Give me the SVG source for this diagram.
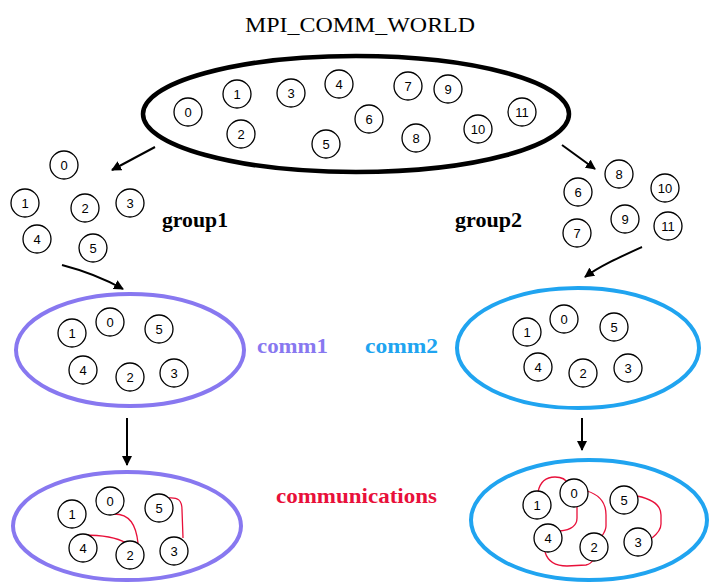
<svg xmlns="http://www.w3.org/2000/svg" width="709" height="583" viewBox="0 0 709 583">
<defs>
<marker id="ah" viewBox="0 0 10 10" refX="9" refY="5" markerWidth="5" markerHeight="5" orient="auto" markerUnits="strokeWidth">
<path d="M0,0 L10,5 L0,10 z" fill="#000"/>
</marker>
</defs>
<style>
.n circle{fill:#fff;stroke:#000;stroke-width:1.3}
.n text{font-family:"Liberation Sans",Arial,sans-serif;font-size:13px;text-anchor:middle;dominant-baseline:central;fill:#000}
.lbl{font-family:"Liberation Serif","Times New Roman",serif;font-weight:bold}
.arr{fill:none;stroke:#000;stroke-width:2;marker-end:url(#ah)}
.red{fill:none;stroke:#e8103a;stroke-width:1.3}
</style>
<rect width="709" height="583" fill="#fff"/>

<text x="360" y="32" text-anchor="middle" font-family="'Liberation Serif','Times New Roman',serif" font-size="22" textLength="230" lengthAdjust="spacingAndGlyphs">MPI_COMM_WORLD</text>

<g id="world">
<ellipse cx="356" cy="114" rx="213" ry="58" fill="none" stroke="#000" stroke-width="4.5"/>
<g class="n">
<g><circle cx="188" cy="112" r="14"/><text x="188" y="112">0</text></g>
<g><circle cx="237" cy="94" r="14"/><text x="237" y="94">1</text></g>
<g><circle cx="241" cy="134" r="14"/><text x="241" y="134">2</text></g>
<g><circle cx="291" cy="93" r="14"/><text x="291" y="93">3</text></g>
<g><circle cx="339" cy="84" r="14"/><text x="339" y="84">4</text></g>
<g><circle cx="326" cy="144" r="14"/><text x="326" y="144">5</text></g>
<g><circle cx="369" cy="119" r="14"/><text x="369" y="119">6</text></g>
<g><circle cx="408" cy="86" r="14"/><text x="408" y="86">7</text></g>
<g><circle cx="416" cy="138" r="14"/><text x="416" y="138">8</text></g>
<g><circle cx="448" cy="89" r="14"/><text x="448" y="89">9</text></g>
<g><circle cx="478" cy="129" r="14"/><text x="478" y="129">10</text></g>
<g><circle cx="522" cy="112" r="14"/><text x="522" y="112">11</text></g>
</g>
</g>

<g id="group1">
<g class="n">
<g><circle cx="64" cy="165" r="14"/><text x="64" y="165">0</text></g>
<g><circle cx="25" cy="203" r="14"/><text x="25" y="203">1</text></g>
<g><circle cx="85" cy="208" r="14"/><text x="85" y="208">2</text></g>
<g><circle cx="130" cy="203" r="14"/><text x="130" y="203">3</text></g>
<g><circle cx="37" cy="239" r="14"/><text x="37" y="239">4</text></g>
<g><circle cx="93" cy="248" r="14"/><text x="93" y="248">5</text></g>
</g>
<text class="lbl" x="162" y="227" font-size="20" textLength="66" lengthAdjust="spacingAndGlyphs">group1</text>
</g>

<g id="group2">
<g class="n">
<g><circle cx="578" cy="192" r="14"/><text x="578" y="192">6</text></g>
<g><circle cx="577" cy="233" r="14"/><text x="577" y="233">7</text></g>
<g><circle cx="619" cy="174" r="14"/><text x="619" y="174">8</text></g>
<g><circle cx="625" cy="219" r="14"/><text x="625" y="219">9</text></g>
<g><circle cx="665" cy="188" r="14"/><text x="665" y="188">10</text></g>
<g><circle cx="668" cy="226" r="14"/><text x="668" y="226">11</text></g>
</g>
<text class="lbl" x="455" y="227" font-size="20" textLength="67" lengthAdjust="spacingAndGlyphs">group2</text>
</g>

<g id="comm1">
<ellipse cx="130" cy="350" rx="114" ry="56" fill="none" stroke="#8878f0" stroke-width="4"/>
<g class="n">
<g><circle cx="110" cy="322" r="14"/><text x="110" y="322">0</text></g>
<g><circle cx="72" cy="333" r="14"/><text x="72" y="333">1</text></g>
<g><circle cx="130" cy="377" r="14"/><text x="130" y="377">2</text></g>
<g><circle cx="174" cy="373" r="14"/><text x="174" y="373">3</text></g>
<g><circle cx="83" cy="370" r="14"/><text x="83" y="370">4</text></g>
<g><circle cx="159" cy="329" r="14"/><text x="159" y="329">5</text></g>
</g>
<text class="lbl" x="257" y="353" font-size="21" fill="#8878f0" textLength="71" lengthAdjust="spacingAndGlyphs">comm1</text>
</g>

<g id="comm2">
<ellipse cx="578" cy="348" rx="121" ry="60" fill="none" stroke="#20a4f0" stroke-width="4"/>
<g class="n">
<g><circle cx="564" cy="319" r="14"/><text x="564" y="319">0</text></g>
<g><circle cx="527" cy="332" r="14"/><text x="527" y="332">1</text></g>
<g><circle cx="583" cy="373" r="14"/><text x="583" y="373">2</text></g>
<g><circle cx="628" cy="368" r="14"/><text x="628" y="368">3</text></g>
<g><circle cx="538" cy="367" r="14"/><text x="538" y="367">4</text></g>
<g><circle cx="614" cy="327" r="14"/><text x="614" y="327">5</text></g>
</g>
<text class="lbl" x="365" y="353" font-size="21" fill="#20a4f0" textLength="73" lengthAdjust="spacingAndGlyphs">comm2</text>
</g>

<text class="lbl" x="276" y="503" font-size="21" fill="#e8103a" textLength="161" lengthAdjust="spacingAndGlyphs">communications</text>

<g id="comms1">
<ellipse cx="127" cy="526" rx="114" ry="54" fill="none" stroke="#8878f0" stroke-width="4"/>
<path class="red" d="M168,498 C178,497 182,500 182,510 L183,538"/>
<path class="red" d="M114,514 C130,514 136,525 138,543"/>
<path class="red" d="M83,535 C102,535 116,537 126,543"/>
<g class="n">
<g><circle cx="110" cy="501" r="14"/><text x="110" y="501">0</text></g>
<g><circle cx="72" cy="514" r="14"/><text x="72" y="514">1</text></g>
<g><circle cx="130" cy="555" r="14"/><text x="130" y="555">2</text></g>
<g><circle cx="174" cy="551" r="14"/><text x="174" y="551">3</text></g>
<g><circle cx="83" cy="548" r="14"/><text x="83" y="548">4</text></g>
<g><circle cx="159" cy="508" r="14"/><text x="159" y="508">5</text></g>
</g>
</g>

<g id="comms2">
<ellipse cx="589" cy="520" rx="118" ry="60" fill="none" stroke="#20a4f0" stroke-width="4"/>
<path class="red" d="M538,492 C540,482 546,477 555,477 C562,477 566,479 568,484"/>
<path class="red" d="M577,506 L577,518 C577,527 570,530 560,531"/>
<path class="red" d="M587,491 C600,495 606,503 606,515 L606,526 C606,530 604,533 602,536"/>
<path class="red" d="M545,552 C548,562 555,566 567,566 L586,565 C590,564 592,562 593,560"/>
<path class="red" d="M637,496 C652,499 661,505 661,515 L661,524 C661,530 657,534 652,538"/>
<g class="n">
<g><circle cx="574" cy="493" r="14"/><text x="574" y="493">0</text></g>
<g><circle cx="537" cy="505" r="14"/><text x="537" y="505">1</text></g>
<g><circle cx="594" cy="547" r="14"/><text x="594" y="547">2</text></g>
<g><circle cx="638" cy="542" r="14"/><text x="638" y="542">3</text></g>
<g><circle cx="548" cy="538" r="14"/><text x="548" y="538">4</text></g>
<g><circle cx="624" cy="500" r="14"/><text x="624" y="500">5</text></g>
</g>
</g>

<g id="connectors">
<path class="arr" d="M155,147 L112,170"/>
<path class="arr" d="M562,145 L595,169"/>
<path class="arr" d="M62,265 C85,271 105,279 123,289"/>
<path class="arr" d="M642,247 C620,257 600,266 585,277"/>
<path class="arr" d="M127,418 L127,465"/>
<path class="arr" d="M582,418 L582,450"/>
</g>
</svg>
